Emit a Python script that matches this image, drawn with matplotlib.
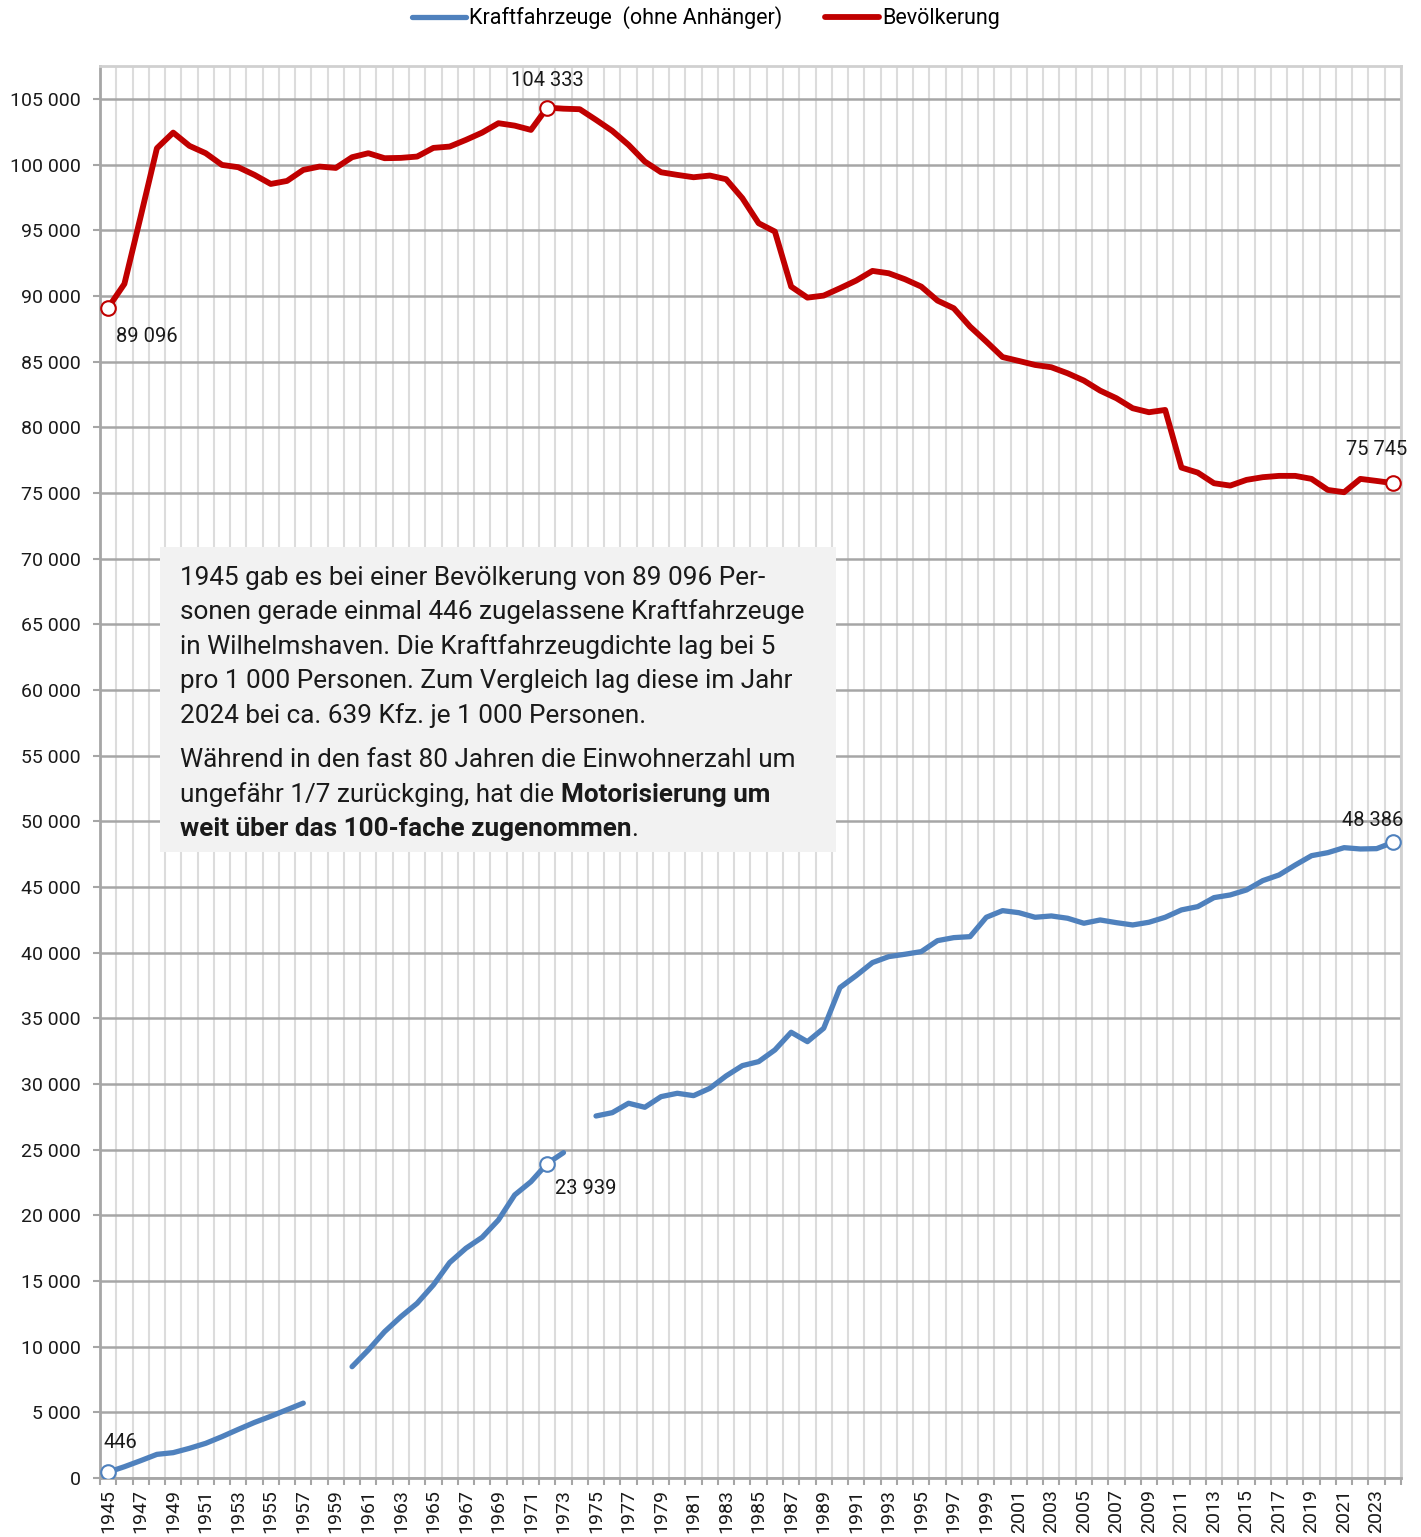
import numpy as np
import matplotlib.pyplot as plt
from matplotlib.ticker import FuncFormatter, MultipleLocator
from matplotlib.patches import Rectangle

plt.rcParams['font.family'] = ['Roboto', 'DejaVu Sans']

# Daten
jahre = list(range(1945, 2025))

bevoelkerung = [
    89096, 90910, 96035, 101240, 102430, 101420, 100860, 99970, 99795, 99210,
    98520, 98750, 99590, 99845, 99740, 100555, 100860, 100480, 100505, 100605,
    101265, 101365, 101875, 102430, 103145, 102960, 102635, 104333, 104250, 104210,
    103400, 102560, 101495, 100225, 99410, 99210, 99030, 99160, 98880, 97435,
    95530, 94895, 90705, 89865, 90020, 90580, 91165, 91900, 91720, 91265,
    90705, 89640, 89055, 87660, 86520, 85340, 85045, 84740, 84565, 84105,
    83550, 82785, 82205, 81445, 81140, 81315, 76925, 76545, 75735, 75555,
    75990, 76195, 76295, 76295, 76065, 75225, 75050, 76065, 75910, 75745,
]

kfz = [
    446, 860, 1320, 1800, 1930, 2260, 2640, 3150, 3700, 4230,
    4700, 5200, 5700, np.nan, np.nan, 8475, 9745, 11140, 12280, 13300,
    14695, 16400, 17490, 18325, 19645, 21550, 22560, 23939, 24770, np.nan,
    27560, 27815, 28530, 28225, 29035, 29290, 29110, 29670, 30610, 31395,
    31700, 32590, 33935, 33220, 34240, 37335, 38250, 39240, 39695, 39875,
    40075, 40910, 41140, 41215, 42690, 43195, 43040, 42690, 42790, 42615,
    42235, 42485, 42280, 42105, 42310, 42690, 43250, 43500, 44185, 44390,
    44770, 45480, 45910, 46670, 47380, 47610, 47990, 47890, 47915, 48386,
]

# markierte Punkte
bev_marken = [1945, 1972, 2024]
kfz_marken = [1945, 1972, 2024]

rot = '#c00000'
blau = '#4f81bd'


def tsd(v):
    return f'{int(round(v)):,}'.replace(',', ' ')


fig = plt.figure(figsize=(14.21, 15.37), dpi=100)
ax = fig.add_axes([100 / 1421, 1 - 1478 / 1537, 1301 / 1421, 1412 / 1537])

ax.plot(jahre, kfz, color=blau, lw=3.8, solid_capstyle='round', zorder=3,
        label='Kraftfahrzeuge  (ohne Anhänger)')
ax.plot(jahre, bevoelkerung, color=rot, lw=4.2, solid_capstyle='round', zorder=3,
        label='Bevölkerung')

for j in bev_marken:
    ax.plot(j, bevoelkerung[j - 1945], 'o', ms=10.5, mfc='white', mec=rot, mew=1.5, zorder=4)
for j in kfz_marken:
    ax.plot(j, kfz[j - 1945], 'o', ms=10.5, mfc='white', mec=blau, mew=1.5, zorder=4)

# Beschriftungen der markierten Punkte
offsets = {('b', 1945): (28, -21), ('b', 1972): (0, 19.5), ('b', 2024): (-12, 24),
           ('k', 1945): (8.6, 21), ('k', 1972): (28, -18), ('k', 2024): (-14.4, 16)}
for (reihe, j), off in offsets.items():
    v = bevoelkerung[j - 1945] if reihe == 'b' else kfz[j - 1945]
    ax.annotate(tsd(v), (j, v), xytext=off, textcoords='offset points',
                ha='center', va='center', fontsize=14.5, color='#1a1a1a', zorder=5)

ax.set_xlim(1944.5, 2024.5)
ax.set_ylim(0, 107500)

ax.yaxis.set_major_locator(MultipleLocator(5000))
ax.yaxis.set_major_formatter(FuncFormatter(lambda v, p: tsd(v)))
ax.set_xticks(range(1945, 2025, 2))
ax.set_xticks(np.arange(1944.5, 2025, 1), minor=True)
ax.tick_params(axis='x', which='major', length=0, labelrotation=90, labelsize=14, pad=8)
ax.tick_params(axis='x', which='minor', length=5, width=1.5, color='#a6a6a6')
ax.tick_params(axis='y', length=5, width=1.5, color='#a6a6a6', labelsize=14, pad=9)
for lab in ax.get_xticklabels() + ax.get_yticklabels():
    lab.set_color('#1a1a1a')

ax.grid(axis='x', which='minor', color='#dcdcdc', lw=1.5, zorder=0)
ax.grid(axis='y', which='major', color='#a6a6a6', lw=1.8, zorder=0)
ax.set_axisbelow(True)

for s in ['left', 'bottom']:
    ax.spines[s].set_color('#a6a6a6')
    ax.spines[s].set_linewidth(2)
for s in ['top', 'right']:
    ax.spines[s].set_color('#d0d0d0')
    ax.spines[s].set_linewidth(2)

# Textkasten
ax.add_patch(Rectangle((60 / 1301, (1478 - 852) / 1412), 676 / 1301, 305 / 1412,
                       transform=ax.transAxes, facecolor='#f2f2f2', edgecolor='none', zorder=2))

fs = 18.8
zeilen = [
    '1945 gab es bei einer Bevölkerung von 89 096 Per-',
    'sonen gerade einmal 446 zugelassene Kraftfahrzeuge',
    'in Wilhelmshaven. Die Kraftfahrzeugdichte lag bei 5',
    'pro 1 000 Personen. Zum Vergleich lag diese im Jahr',
    '2024 bei ca. 639 Kfz. je 1 000 Personen.',
]
x0 = 180 / 1421
for i, z in enumerate(zeilen):
    fig.text(x0, 1 - (585 + i * 34.4) / 1537, z, fontsize=fs, va='baseline', color='#1a1a1a')

fig.text(x0, 1 - 767 / 1537, 'Während in den fast 80 Jahren die Einwohnerzahl um',
         fontsize=fs, va='baseline', color='#1a1a1a')
t1 = fig.text(x0, 1 - 802 / 1537, 'ungefähr 1/7 zurückging, hat die ',
              fontsize=fs, va='baseline', color='#1a1a1a')
ax.annotate('Motorisierung um', xy=(1, 0), xycoords=t1, va='bottom', ha='left',
            fontsize=fs, fontweight='bold', color='#1a1a1a')
t2 = fig.text(x0, 1 - 836 / 1537, 'weit über das 100-fache zugenommen',
              fontsize=fs, fontweight='bold', va='baseline', color='#1a1a1a')
ax.annotate('.', xy=(1, 0), xycoords=t2, va='bottom', ha='left',
            fontsize=fs, color='#1a1a1a')

fig.legend(loc='center', bbox_to_anchor=(706 / 1421, 1 - 18 / 1537), ncol=2, frameon=False,
           fontsize=15.5, handlelength=2.5, handletextpad=0.15, columnspacing=2.0)

fig.savefig('out.png', dpi=100)
